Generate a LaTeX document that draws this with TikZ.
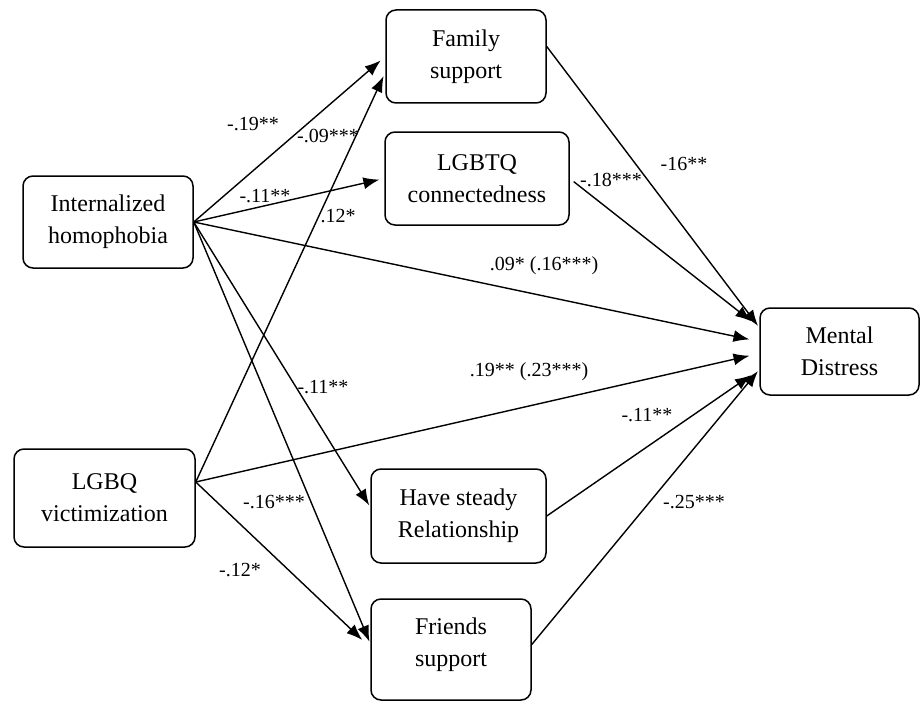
\documentclass[tikz,border=0pt]{standalone}
\usepackage{fontspec}
\setmainfont{Liberation Serif}
\usetikzlibrary{positioning,arrows.meta}

\begin{document}
\begin{tikzpicture}[x=0.5pt,y=-0.5pt,>={Latex[length=8pt,width=6pt]},
        var/.style={draw,rounded corners=5pt,line width=0.75pt,align=center,inner sep=0pt,font=\fontsize{12}{16}\selectfont},
        path/.style={->,line width=0.7pt,shorten >=1pt},
        coef/.style={inner sep=0pt,font=\fontsize{10}{12}\selectfont}]
        \useasboundingbox (0,0) rectangle (920,701);

        \node [var,minimum width=85pt,minimum height=46pt] at (108,222) (ih) {Internalized\\homophobia};
        \node [var,minimum width=90.5pt,minimum height=49pt] at (104.5,498) (vic) {LGBQ\\victimization};
        \node [var,minimum width=80pt,minimum height=46.5pt] at (466,56.5) (fam) {Family\\support};
        \node [var,minimum width=92pt,minimum height=46.5pt] at (477,178.5) (con) {LGBTQ\\connectedness};
        \node [var,minimum width=87.5pt,minimum height=47pt] at (458.5,516) (rel) {Have steady\\Relationship};
        \node [var,minimum width=80pt,minimum height=50.5pt] at (451,649.5) (fri) {Friends\\support\rule[-7pt]{0pt}{7pt}};
        \node [var,minimum width=79.5pt,minimum height=43.5pt] at (839.5,351.5) (ment) {Mental\\Distress};

        \draw [path,shorten >=3pt] (ih.east) -- (fam.west);
        \draw [path,shorten >=2.5pt] (ih.east) -- (con.west);
        \draw [path,shorten >=5pt] (ih.east) -- ([yshift=5pt]ment.west);
        \draw [path] (ih.east) -- ([yshift=4.5pt]rel.west);
        \draw [path] (ih.east) -- ([yshift=3pt]fri.west);

        \draw [path,shorten >=2pt] ([yshift=8pt]vic.east) -- ([yshift=-8pt]fam.west);
        \draw [path,shorten >=5pt] ([yshift=8pt]vic.east) -- ([yshift=-1pt]ment.west);
        \draw [path,shorten >=5.5pt] ([yshift=8pt]vic.east) -- ([yshift=1pt]fri.west);

        \draw [path] ([yshift=5pt]fam.east) -- ([yshift=12pt]ment.west);
        \draw [path,shorten >=5pt,shorten <=2.5pt] (con.east) -- ([yshift=12pt]ment.west);
        \draw [path,shorten >=5pt] (rel.east) -- ([yshift=-9pt]ment.west);
        \draw [path] ([yshift=2.5pt]fri.east) -- ([yshift=-9pt]ment.west);

        \node [coef] at (253,124) (ihfam) {-.19**};
        \node [coef] at (328,136) (vicfam) {-.09***};
        \node [coef] at (265,196) (ihcon) {-.11**};
        \node [coef] at (338,216) (viccon) {.12*};
        \node [coef] at (544,266) (ihment) {.09* (.16***)};
        \node [coef] at (323,387) (ihrel) {-.11**};
        \node [coef] at (529,372) (vicment) {.19** (.23***)};
        \node [coef] at (274,502) (ihfri) {-.16***};
        \node [coef] at (240,570) (vicfri) {-.12*};
        \node [coef] at (684,164) (famment) {-16**};
        \node [coef] at (611,180) (conment) {-.18***};
        \node [coef] at (647,415) (relment) {-.11**};
        \node [coef] at (694,502) (friment) {-.25***};
      \end{tikzpicture}
\end{document}
